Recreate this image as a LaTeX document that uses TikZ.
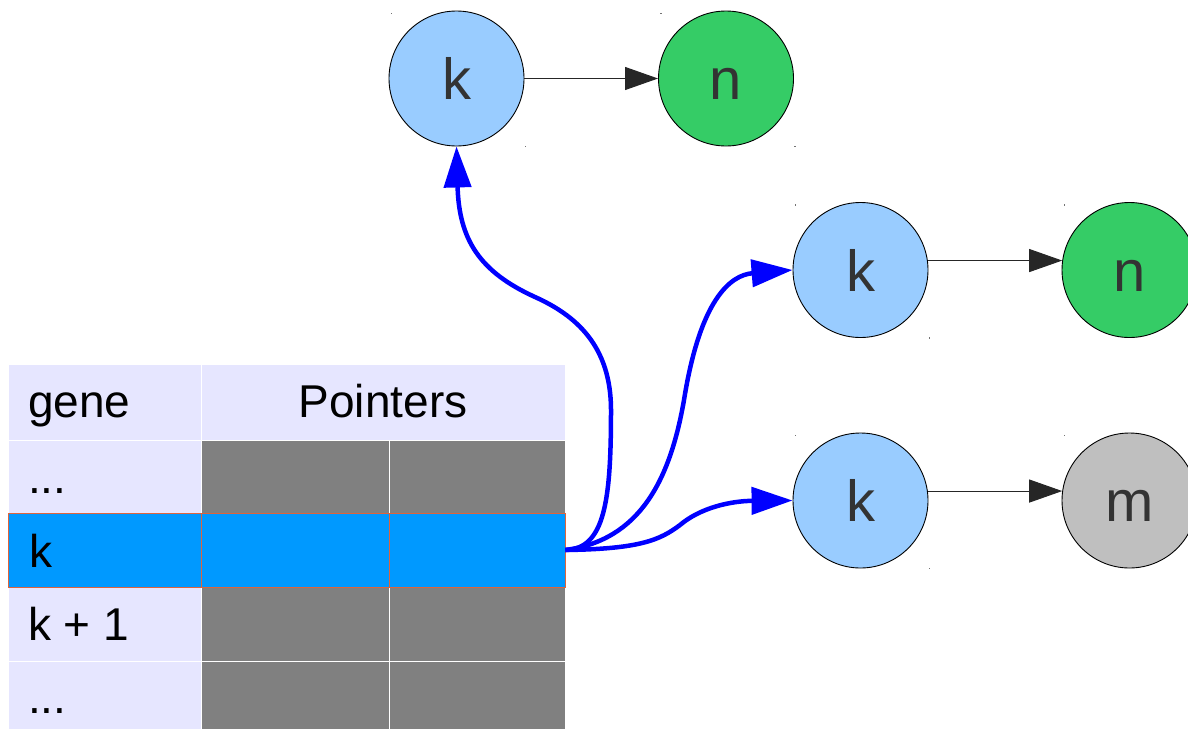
\documentclass[tikz,border=0pt]{standalone}
\usepackage{fontspec}
\setmainfont{Liberation Sans}
\usetikzlibrary{arrows.meta}

\definecolor{lav}{RGB}{230,230,255}
\definecolor{cellgray}{RGB}{128,128,128}
\definecolor{rowblue}{RGB}{0,153,255}
\definecolor{rowedge}{RGB}{222,100,60}
\definecolor{nodeblue}{RGB}{153,204,255}
\definecolor{nodegreen}{RGB}{53,204,102}
\definecolor{nodegray}{RGB}{191,191,191}
\definecolor{labelgray}{RGB}{51,51,51}

\begin{document}
\begin{tikzpicture}[x=1pt,y=-1pt,
  cell/.style={rectangle, draw=white, line width=1pt, inner sep=0pt},
  lavcell/.style={cell, fill=lav},
  graycell/.style={cell, fill=cellgray},
  hicell/.style={cell, fill=rowblue, draw=rowedge, line width=0.9pt},
  tabtext/.style={anchor=base west, inner sep=0pt, font=\fontsize{46}{50}\selectfont},
  listnode/.style={circle, draw=black, line width=0.9pt, minimum size=135pt, inner sep=0pt,
    font=\fontsize{58}{60}\selectfont, text=labelgray, text height=42pt, text depth=0pt},
  link/.style={-{Triangle[length=33pt,width=23pt]}, line width=1pt, draw=black!85},
  pointer/.style={-{Triangle[length=41pt,width=27pt]}, line width=4.5pt, draw=blue},
  handle/.style={fill=black!55}
]
\useasboundingbox (0,0) rectangle (1188,728);
\clip (0,0) rectangle (1188,728);

% ---- gene table ----
\node[lavcell, minimum width=193pt, minimum height=76pt] (hgene) at (104.5,402) {};
\node[lavcell, minimum width=364pt, minimum height=76pt] (hptr) at (383,402) {};

\node[lavcell,  minimum width=193pt, minimum height=73pt] (g1) at (104.5,476.5) {};
\node[graycell, minimum width=188pt, minimum height=73pt] (a1) at (295,476.5) {};
\node[graycell, minimum width=176pt, minimum height=73pt] (b1) at (477,476.5) {};

\node[lavcell,  minimum width=193pt, minimum height=74pt] (g3) at (104.5,624) {};
\node[graycell, minimum width=188pt, minimum height=74pt] (a3) at (295,624) {};
\node[graycell, minimum width=176pt, minimum height=74pt] (b3) at (477,624) {};

\node[lavcell,  minimum width=193pt, minimum height=74pt] (g4) at (104.5,698) {};
\node[graycell, minimum width=188pt, minimum height=74pt] (a4) at (295,698) {};
\node[graycell, minimum width=176pt, minimum height=74pt] (b4) at (477,698) {};

% highlighted row k, drawn last so its edges stay on top
\node[hicell, minimum width=193pt, minimum height=74pt] (g2) at (104.5,550) {};
\node[hicell, minimum width=188pt, minimum height=74pt] (a2) at (295,550) {};
\node[hicell, minimum width=176pt, minimum height=74pt] (b2) at (477,550) {};

\node[tabtext] (tgene) at (28,417) {gene};
\node[tabtext, anchor=base] (tptr) at (383,417) {Pointers};
\node[tabtext] (t1) at (28,493) {...};
\node[tabtext] (t2) at (29,567) {k};
\node[tabtext] (t3) at (28,640) {k + 1};
\node[tabtext] (t4) at (28,713) {...};

% ---- linked lists ----
\node[listnode, fill=nodeblue]  (k1) at (456.5,78.5) {k};
\node[listnode, fill=nodegreen] (n1) at (726,78.5) {n};
\node[listnode, fill=nodeblue]  (k2) at (860.5,270) {k};
\node[listnode, fill=nodegreen] (n2) at (1129.5,270) {n};
\node[listnode, fill=nodeblue]  (k3) at (860.5,500.5) {k};
\node[listnode, fill=nodegray]  (m3) at (1129.5,500.5) {m};

% small corner handles of the list nodes
\foreach \c in {k1,n1,k2,n2,k3,m3}{
  \fill[handle] ([shift={(-66,-66)}]\c.center) rectangle ++(1.5,1.5);
  \fill[handle] ([shift={(68,67)}]\c.center) rectangle ++(1.5,1.5);
}

\draw[link] (k1.east) -- (n1.west);
\draw[link] (k2.8) -- (n2.172);
\draw[link] (k3.8) -- (m3.172);

% ---- pointers from row k ----
\draw[pointer] (b2.east) .. controls (605,549) and (611,500) .. (611,410)
  .. controls (611,345) and (575,315) .. (535,297)
  .. controls (480,272) and (459,240) .. (k1.south);
\draw[pointer] (b2.east) .. controls (640,540) and (670,480) .. (684,400)
  .. controls (700,300) and (730,275) .. (k2.west);
\draw[pointer] (b2.east) .. controls (640,549) and (660,540) .. (680,525)
  .. controls (700,508) and (730,501) .. (k3.west);
\end{tikzpicture}
\end{document}
